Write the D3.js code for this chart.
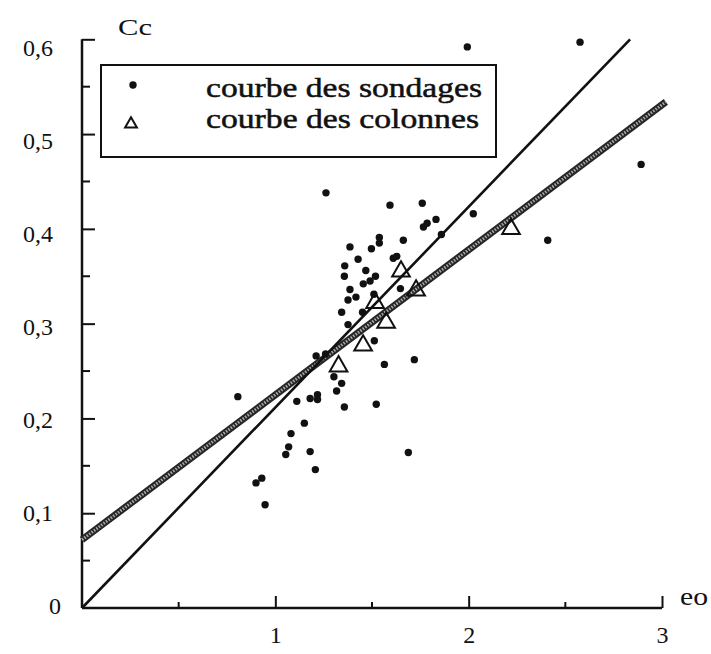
<!DOCTYPE html>
<html>
<head>
<meta charset="utf-8">
<script src="https://cdn.jsdelivr.net/npm/d3@7"></script>
<style>
  html, body { margin: 0; padding: 0; background: #fff; }
  svg { display: block; }
  text { font-family: "Liberation Serif", "Times New Roman", Tinos, "Nimbus Roman", serif; fill: #111; }
</style>
</head>
<body>
<svg id="chart" width="711" height="654"></svg>
<script>
// ---- data ----
// courbe des sondages (points)
const sondagesEo = [1.993, 2.576, 2.892, 2.409, 2.024, 1.262, 1.593, 1.760, 1.831, 1.766,
  1.785, 1.538, 1.538, 1.662, 1.859, 1.386, 1.497, 1.428, 1.610, 1.628,
  1.359, 1.468, 1.357, 1.518, 1.490, 1.455, 1.386, 1.647, 1.376, 1.417,
  1.510, 1.343, 1.451, 1.512, 1.564, 1.719, 1.211, 1.260, 1.303, 1.343,
  1.317, 1.357, 1.522, 1.688, 0.806, 1.111, 1.150, 1.180, 1.218, 1.218,
  1.180, 1.207, 1.054, 1.069, 1.081, 0.900, 0.930, 0.947, 1.376];
const sondagesCc = [0.592, 0.597, 0.468, 0.388, 0.416, 0.438, 0.425, 0.427, 0.410, 0.402,
  0.406, 0.391, 0.385, 0.388, 0.394, 0.381, 0.379, 0.368, 0.369, 0.371,
  0.361, 0.356, 0.350, 0.350, 0.345, 0.342, 0.336, 0.337, 0.325, 0.328,
  0.331, 0.312, 0.312, 0.282, 0.257, 0.262, 0.266, 0.268, 0.244, 0.237,
  0.229, 0.212, 0.215, 0.164, 0.223, 0.218, 0.195, 0.221, 0.220, 0.225,
  0.165, 0.146, 0.162, 0.170, 0.184, 0.132, 0.137, 0.109, 0.299];
// courbe des colonnes (triangles)
const colonnesEo = [2.219, 1.650, 1.728, 1.516, 1.573, 1.454, 1.327];
const colonnesCc = [0.400, 0.355, 0.335, 0.322, 0.301, 0.277, 0.255];
// regression lines
const droiteSondagesEo = [0, 2.835];
const droiteSondagesCc = [0, 0.600];
const droiteColonnesEo = [0, 3.02];
const droiteColonnesCc = [0.072, 0.534];
// ticks
const xMajorTicks = [1, 2, 3];
const xMinorTicks = [0.5, 1.5, 2.5];
const xTickLabels = ["1", "2", "3"];
const yMajorTicks = [0.1, 0.2, 0.3, 0.4, 0.5, 0.6];
const yMinorTicks = [0.05, 0.15, 0.25, 0.35, 0.45, 0.55];
const yLabelValues = [0, 0.1, 0.2, 0.3, 0.4, 0.5, 0.6];
const yTickLabels = ["0", "0,1", "0,2", "0,3", "0,4", "0,5", "0,6"];
const legendLabels = ["courbe des sondages", "courbe des colonnes"];
const axisTitles = { x: "eo", y: "Cc" };

// ---- drawing ----
const svg = d3.select("#chart");
const x = d3.scaleLinear().domain([0, 3]).range([82, 662]);
const y = d3.scaleLinear().domain([0, 0.6]).range([608, 39.3]);
// the printed labels sit slightly below their ticks
const yLab = d3.scaleLinear().domain([0, 0.6]).range([606, 48]);

const axisColor = "#111";

// x axis
const gx = svg.append("g").attr("transform", `translate(0,${y(0)})`);
gx.call(d3.axisBottom(x).tickValues(xMajorTicks).tickSizeInner(-12).tickSizeOuter(0)
  .tickPadding(30).tickFormat((d, i) => xTickLabels[i]));
gx.attr("font-family", null);
gx.select(".domain").attr("stroke", axisColor).attr("stroke-width", 2.5)
  .attr("d", `M${x(0)},0H${x(3)}`);
gx.selectAll(".tick line").attr("stroke", axisColor).attr("stroke-width", 2);
gx.selectAll(".tick text").attr("font-size", 24).attr("fill", "#111").attr("dy", "0.2em");
gx.selectAll(".minor").data(xMinorTicks).enter().append("line")
  .attr("x1", d => x(d)).attr("x2", d => x(d)).attr("y1", 0).attr("y2", -6)
  .attr("stroke", axisColor).attr("stroke-width", 2);

// y axis
const gy = svg.append("g").attr("transform", `translate(${x(0)},0)`);
gy.call(d3.axisLeft(y).tickValues(yMajorTicks).tickSizeInner(-13).tickSizeOuter(0).tickFormat(""));
gy.select(".domain").attr("stroke", axisColor).attr("stroke-width", 2.5)
  .attr("d", `M0,${y(0)}V${y(0.6)}`);
gy.selectAll(".tick line").attr("stroke", axisColor).attr("stroke-width", 2);
gy.selectAll(".minor").data(yMinorTicks).enter().append("line")
  .attr("x1", 0).attr("x2", 8).attr("y1", d => y(d)).attr("y2", d => y(d))
  .attr("stroke", axisColor).attr("stroke-width", 2);

svg.append("g").selectAll("text").data(yLabelValues).enter().append("text")
  .attr("x", d => d === 0 ? 61 : 53)
  .attr("y", d => yLab(d))
  .attr("dy", "0.35em")
  .attr("text-anchor", "end")
  .attr("font-size", 24)
  .text((d, i) => yTickLabels[i]);

// axis titles
svg.append("text").attr("x", 118).attr("y", 35).attr("font-size", 24)
  .attr("textLength", 34).attr("lengthAdjust", "spacingAndGlyphs").text(axisTitles.y);
svg.append("text").attr("x", 680).attr("y", 605).attr("font-size", 26)
  .attr("textLength", 28).attr("lengthAdjust", "spacingAndGlyphs").text(axisTitles.x);

// regression lines
const line = d3.line().x(d => x(d[0])).y(d => y(d[1]));
const grayPts = d3.zip(droiteColonnesEo, droiteColonnesCc);
svg.append("path").attr("d", line(grayPts)).attr("fill", "none")
  .attr("stroke", "#262626").attr("stroke-width", 7);
svg.append("path").attr("d", line(grayPts)).attr("fill", "none")
  .attr("stroke", "#a8a8a8").attr("stroke-width", 3).attr("stroke-dasharray", "1.5 1.5");
svg.append("path").attr("d", line(d3.zip(droiteSondagesEo, droiteSondagesCc)))
  .attr("fill", "none").attr("stroke", "#111").attr("stroke-width", 2.6);

// points
svg.append("g").selectAll("circle").data(d3.zip(sondagesEo, sondagesCc)).enter()
  .append("circle").attr("cx", d => x(d[0])).attr("cy", d => y(d[1])).attr("r", 3.7)
  .attr("fill", "#111");

// triangles
const tri = d3.symbol().type(d3.symbolTriangle).size(135);
svg.append("g").selectAll("path").data(d3.zip(colonnesEo, colonnesCc)).enter()
  .append("path").attr("d", tri)
  .attr("transform", d => `translate(${x(d[0])},${y(d[1])})`)
  .attr("fill", "none").attr("stroke", "#111").attr("stroke-width", 2);

// legend
const lg = svg.append("g");
lg.append("rect").attr("x", 101).attr("y", 65).attr("width", 395).attr("height", 92)
  .attr("fill", "#fff").attr("stroke", "#111").attr("stroke-width", 2);
lg.append("circle").attr("cx", 133).attr("cy", 85).attr("r", 3.7).attr("fill", "#111");
lg.append("path").attr("d", d3.symbol().type(d3.symbolTriangle).size(60))
  .attr("transform", "translate(131,124)")
  .attr("fill", "none").attr("stroke", "#111").attr("stroke-width", 2);
lg.selectAll("text").data(legendLabels).enter().append("text")
  .attr("x", 206).attr("y", (d, i) => 97 + i * 31)
  .attr("font-size", 27).attr("textLength", (d, i) => i === 0 ? 276 : 273)
  .attr("lengthAdjust", "spacingAndGlyphs")
  .attr("stroke", "#111").attr("stroke-width", 0.5)
  .text(d => d);
</script>
</body>
</html>
